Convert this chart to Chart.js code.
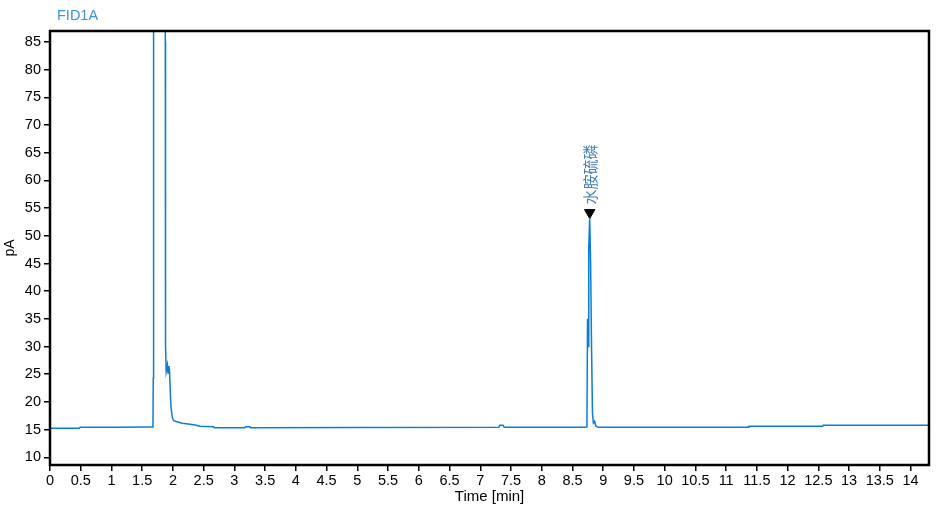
<!DOCTYPE html>
<html>
<head>
<meta charset="utf-8">
<script src="https://cdn.jsdelivr.net/npm/chart.js@4"></script>
<style>
    body { margin: 0; background: #fff; }
    canvas { display: block; }
</style>
</head>
<body>
<canvas id="cromatograma" width="938" height="507"></canvas>
<script>
const titulo = 'FID1A';
const ejeX = 'Time [min]';
const ejeY = 'pA';

// marcas de los ejes
const ticksX = [0, 0.5, 1, 1.5, 2, 2.5, 3, 3.5, 4, 4.5, 5, 5.5, 6, 6.5, 7, 7.5, 8, 8.5, 9, 9.5,
    10, 10.5, 11, 11.5, 12, 12.5, 13, 13.5, 14];
const ticksY = [10, 15, 20, 25, 30, 35, 40, 45, 50, 55, 60, 65, 70, 75, 80, 85];

const tiempos = [0, 0.3, 0.48, 0.49, 1.0, 1.66, 1.675, 1.68, 1.685, 1.87, 1.876, 1.877, 1.882,
    1.89, 1.91, 1.92, 1.935, 1.945, 1.96, 1.97, 1.99, 2.01, 2.08, 2.15, 2.28, 2.36, 2.44,
    2.66, 2.67, 3.17, 3.18, 3.25, 3.26, 5.0, 7.30, 7.32, 7.37, 7.39,
    8.70, 8.735, 8.745, 8.755, 8.765, 8.78, 8.795, 8.81, 8.825, 8.84, 8.86, 8.88, 8.92,
    11.36, 11.37, 12.57, 12.58, 14.3];
const senal = [15.23, 15.25, 15.25, 15.4, 15.42, 15.45, 15.6, 24.3, 200, 200, 85, 70.5, 30.3,
    25.5, 26.7, 25.2, 26.5, 25.5, 21, 18.9, 17.2, 16.6, 16.37, 16.13, 15.95, 15.83, 15.6,
    15.52, 15.35, 15.35, 15.52, 15.52, 15.35, 15.38, 15.4, 15.78, 15.78, 15.4,
    15.4, 15.5, 35, 30, 48, 53.2, 45, 30, 18, 16.2, 16.5, 15.6, 15.4,
    15.42, 15.6, 15.62, 15.78, 15.8];

// pico identificado
const picoNombre = '水胺硫磷';
const picoTiempo = [8.78];
const picoMarca = [54.2];

const puntos = tiempos.map((t, i) => ({ x: t, y: senal[i] }));
const marca = picoTiempo.map((t, i) => ({ x: t, y: picoMarca[i] }));

const fuente = '"Liberation Sans", Arial';

const marcoPlugin = {
    id: 'marco',
    afterDatasetsDraw(chart) {
        const { ctx, chartArea: a, scales } = chart;
        ctx.save();
        // etiqueta del pico, vertical
        const px = scales.x.getPixelForValue(picoTiempo[0]);
        const py = scales.y.getPixelForValue(picoMarca[0]);
        ctx.translate(px + 1, py - 8);
        ctx.rotate(-Math.PI / 2);
        ctx.fillStyle = '#3f7fc2';
        ctx.font = '15px "Noto Sans CJK SC"';
        ctx.textAlign = 'left';
        ctx.textBaseline = 'middle';
        ctx.fillText(picoNombre, 0, 0);
        ctx.restore();

        ctx.save();
        ctx.strokeStyle = '#000';
        ctx.lineWidth = 2.5;
        ctx.strokeRect(a.left, a.top, a.right - a.left, a.bottom - a.top);
        ctx.fillStyle = '#3b93df';
        ctx.font = '14.5px ' + fuente;
        ctx.textAlign = 'left';
        ctx.textBaseline = 'middle';
        ctx.fillText(titulo, 57, 16);
        ctx.restore();
    }
};

new Chart(document.getElementById('cromatograma'), {
    type: 'line',
    data: {
        datasets: [
            {
                data: puntos,
                borderColor: '#0a7fd2',
                borderWidth: 1.5,
                pointRadius: 0,
                tension: 0,
                fill: false
            },
            {
                data: marca,
                showLine: false,
                pointStyle: 'triangle',
                pointRotation: 180,
                pointRadius: 6,
                pointBackgroundColor: '#000',
                pointBorderColor: '#000',
                pointBorderWidth: 1
            }
        ]
    },
    options: {
        responsive: false,
        animation: false,
        layout: { padding: { top: 31, right: 9, left: 0, bottom: 0 } },
        plugins: { legend: { display: false }, tooltip: { enabled: false } },
        scales: {
            x: {
                type: 'linear',
                min: 0,
                max: 14.3,
                afterFit: s => { s.height = 42; },
                afterBuildTicks: s => { s.ticks = ticksX.map(v => ({ value: v })); },
                ticks: {
                    autoSkip: false,
                    maxRotation: 0,
                    padding: 1,
                    color: '#000',
                    font: { family: fuente, size: 14.5 },
                    callback: v => String(v)
                },
                grid: { drawOnChartArea: false, drawTicks: true, tickLength: 6, color: '#000', lineWidth: 1.5 },
                border: { color: '#000', width: 2 },
                title: {
                    display: true,
                    text: ejeX,
                    color: '#000',
                    font: { family: fuente, size: 15 },
                    padding: { top: 0, bottom: 1 }
                }
            },
            y: {
                type: 'linear',
                min: 8.6,
                max: 87,
                afterFit: s => { s.width = 50; },
                afterBuildTicks: s => { s.ticks = ticksY.map(v => ({ value: v })); },
                ticks: {
                    autoSkip: false,
                    padding: 3,
                    color: '#000',
                    font: { family: fuente, size: 14.5 },
                    callback: v => String(v)
                },
                grid: { drawOnChartArea: false, drawTicks: true, tickLength: 6, color: '#000', lineWidth: 1.5 },
                border: { color: '#000', width: 2 },
                title: {
                    display: true,
                    text: ejeY,
                    color: '#000',
                    font: { family: fuente, size: 14 },
                    padding: { top: 2, bottom: 0 }
                }
            }
        }
    },
    plugins: [marcoPlugin]
});
</script>
</body>
</html>
